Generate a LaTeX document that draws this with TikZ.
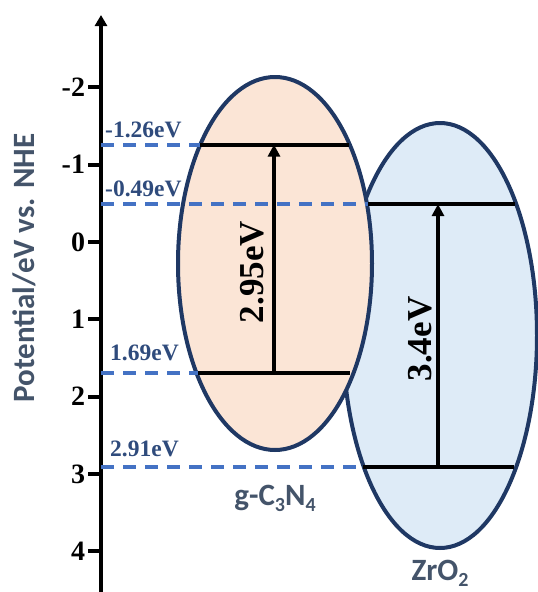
\documentclass[tikz,border=0pt]{standalone}
\usepackage{fontspec}
\setmainfont{Liberation Serif}
\newfontfamily\calibri{Carlito}
\usetikzlibrary{arrows.meta,positioning,shapes.geometric}
\definecolor{navy}{HTML}{1F3864}
\definecolor{dashblue}{HTML}{4472C4}
\definecolor{evtext}{HTML}{2F4B7C}
\definecolor{slate}{HTML}{44546A}
\definecolor{peach}{HTML}{FBE5D6}
\definecolor{paleblue}{HTML}{DEEBF7}
\newcommand{\chemsub}[1]{\raisebox{-0.2em}{\fontsize{20}{20}\selectfont#1}}

\begin{document}
\begin{tikzpicture}[x=1pt,y=-1pt,
  semi/.style={ellipse, draw=navy, line width=4pt, inner sep=0pt, minimum width=194pt},
  level/.style={line width=4pt, black},
  vac/.style={line width=4pt, dashblue, dash pattern=on 13pt off 9pt},
  evlab/.style={anchor=south west, inner sep=0pt, evtext, font=\bfseries\fontsize{23.5}{23.5}\selectfont},
  gaplab/.style={rotate=90, inner sep=0pt, font=\bfseries\fontsize{35}{35}\selectfont},
  matlab/.style={slate, inner sep=0pt, anchor=base, font=\calibri\bfseries\fontsize{31}{31}\selectfont}]
\useasboundingbox (0,0) rectangle (538,592);
% energy scale: y = 242 + 77.3*E (eV vs. NHE)
\coordinate (axtop) at (101,15);
\coordinate (axbot) at (101,604);
\draw[line width=4pt, {Triangle[length=11pt,width=12pt]}-{Triangle[length=11pt,width=12pt]}] (axbot) -- (axtop);
\foreach \v in {-2,...,4}
  \draw[line width=4pt] (101,{242+77.3*\v}) -- (88,{242+77.3*\v})
    node[left=1pt, inner sep=0pt, font=\bfseries\fontsize{28}{28}\selectfont] (tick\v) {\v};
\node[slate, inner sep=0pt, rotate=90, font=\calibri\bfseries\fontsize{31}{31}\selectfont] (ylab) at (24,268) {Potential/eV vs. NHE};
% semiconductors (ZrO2 behind)
\node[semi, fill=paleblue, minimum height=425pt] (zro) at (440,335.5) {};
\node[semi, fill=peach, minimum height=373pt] (gcn) at (275,263.5) {};
\node[matlab] (gcnlab) at ([yshift=-53pt]gcn.south) {g-C\chemsub{3}N\chemsub{4}};
\node[matlab] (zrolab) at ([yshift=-30pt]zro.south) {ZrO\chemsub{2}};
% band edges
\coordinate (gcb0) at (101,144.6); \coordinate (gcb1) at (200,144.6); \coordinate (gcb2) at (349,144.6);
\coordinate (gvb0) at (101,372.6); \coordinate (gvb1) at (198,372.6); \coordinate (gvb2) at (350,372.6);
\coordinate (zcb0) at (101,204.1); \coordinate (zcb1) at (368,204.1); \coordinate (zcb2) at (515,204.1);
\coordinate (zvb0) at (101,467.0); \coordinate (zvb1) at (363,467.0); \coordinate (zvb2) at (514,467.0);
\draw[vac] (gcb0) -- (gcb1);
\draw[vac] (zcb0) -- (zcb1);
\draw[vac] (gvb0) -- (gvb1);
\draw[vac] (zvb0) -- (zvb1);
\draw[level] (gcb1) -- (gcb2);
\draw[level] (gvb1) -- (gvb2);
\draw[level] (zcb1) -- (zcb2);
\draw[level] (zvb1) -- (zvb2);
\node[evlab] (gcbev) at (105,138) {-1.26eV};
\node[evlab] (zcbev) at (105,197) {-0.49eV};
\node[evlab] (gvbev) at (110,361) {1.69eV};
\node[evlab] (zvbev) at (110,457) {2.91eV};
% band gaps
\coordinate (garr0) at (274,372.6); \coordinate (garr1) at (274,144.6);
\coordinate (zarr0) at (438,467.0); \coordinate (zarr1) at (438,204.1);
\draw[line width=3.5pt, -{Triangle[length=12pt,width=12pt]}] (garr0) -- (garr1);
\draw[line width=3.5pt, -{Triangle[length=12pt,width=12pt]}] (zarr0) -- (zarr1);
\node[gaplab] (ggap) at (252,272) {2.95eV};
\node[gaplab] (zgap) at (420,339) {3.4eV};
\end{tikzpicture}
\end{document}
